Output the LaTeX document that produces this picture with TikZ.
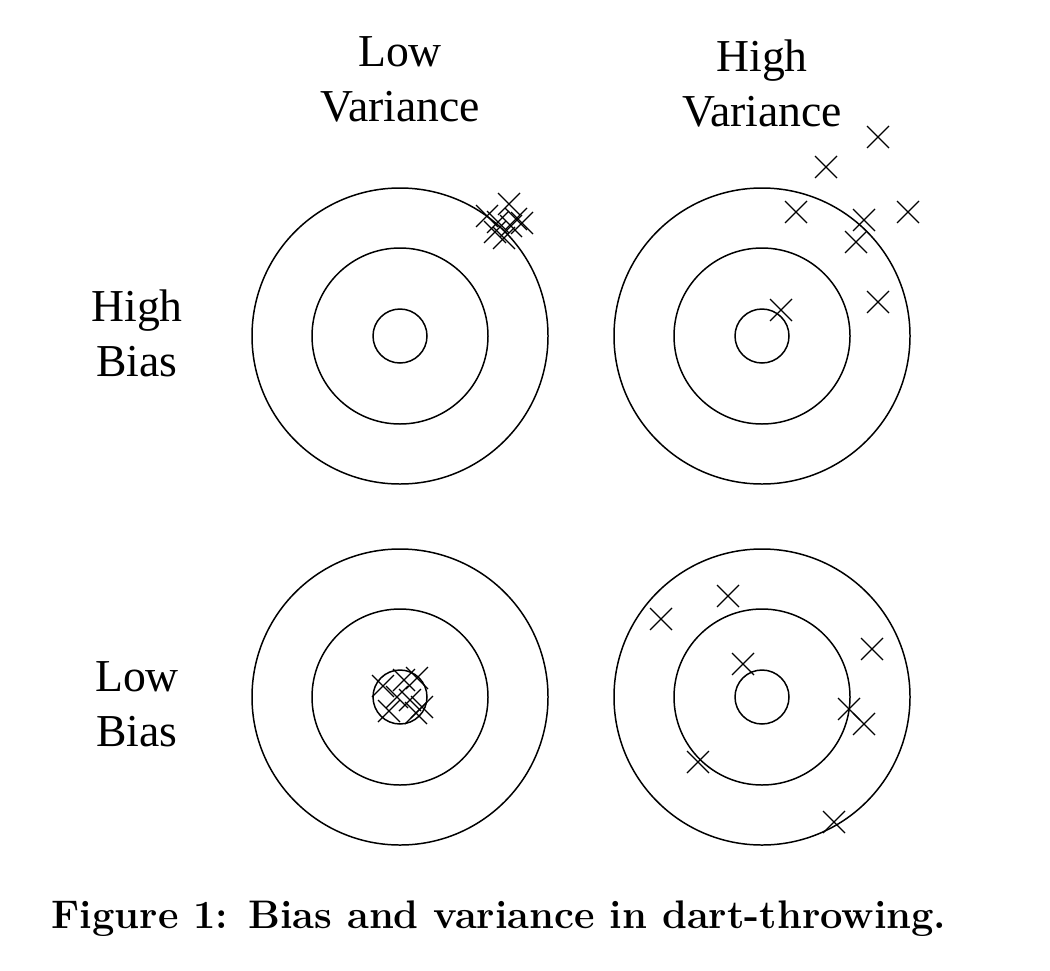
\documentclass[tikz,border=0pt]{standalone}
\usepackage{fontspec}
\newfontfamily\labfont{Liberation Serif}
\begin{document}
\begin{tikzpicture}[x=0.02cm,y=-0.02cm,
  ring/.style={line width=0.85pt},
  lab/.style={anchor=base,inner sep=0pt,font=\labfont\fontsize{26}{30}\selectfont},
  dart/.pic={\draw[line width=0.75pt] (-11,-11)--(11,11) (-11,11)--(11,-11);}]
\useasboundingbox (0,0) rectangle (1050,970);
\foreach \cx/\cy in {400/336,762/336,400/697,762/697}{
  \draw[ring] (\cx,\cy) circle[radius=148];
  \draw[ring] (\cx,\cy) circle[radius=88];
  \draw[ring] (\cx,\cy) circle[radius=27];
}
\node[lab] (lv1) at (400,66) {Low};
\node[lab] (lv2) at (400,121) {Variance};
\node[lab] (hv1) at (762,71) {High};
\node[lab] (hv2) at (762,126) {Variance};
\node[lab] (hb1) at (137,321) {High};
\node[lab] (hb2) at (137,376) {Bias};
\node[lab] (lb1) at (137,691) {Low};
\node[lab] (lb2) at (137,746) {Bias};
\node[anchor=base,inner sep=0pt,font=\fontsize{22.7}{26}\selectfont\bfseries] (cap) at (499,928) {Figure 1: Bias and variance in dart-throwing.};
% top-left cluster
\foreach \x/\y in {509/204,487/216,498/222,511/226,504/238,516/219,522/223,495/232}{
  \pic at (\x,\y) {dart};
}
% top-right
\foreach \x/\y in {878/137,826/167,796/212,864/220,908/212,856/242,878/302,781/310}{
  \pic at (\x,\y) {dart};
}
% bottom-left cluster
\foreach \x/\y in {383/686,404/680,417/678,389/711,416/713,397/697,410/700,422/707}{
  \pic at (\x,\y) {dart};
}
% bottom-right
\foreach \x/\y in {728/596,661/619,872/649,743/664,849/709,864/724,698/762,834/822}{
  \pic at (\x,\y) {dart};
}
\end{tikzpicture}
\end{document}
